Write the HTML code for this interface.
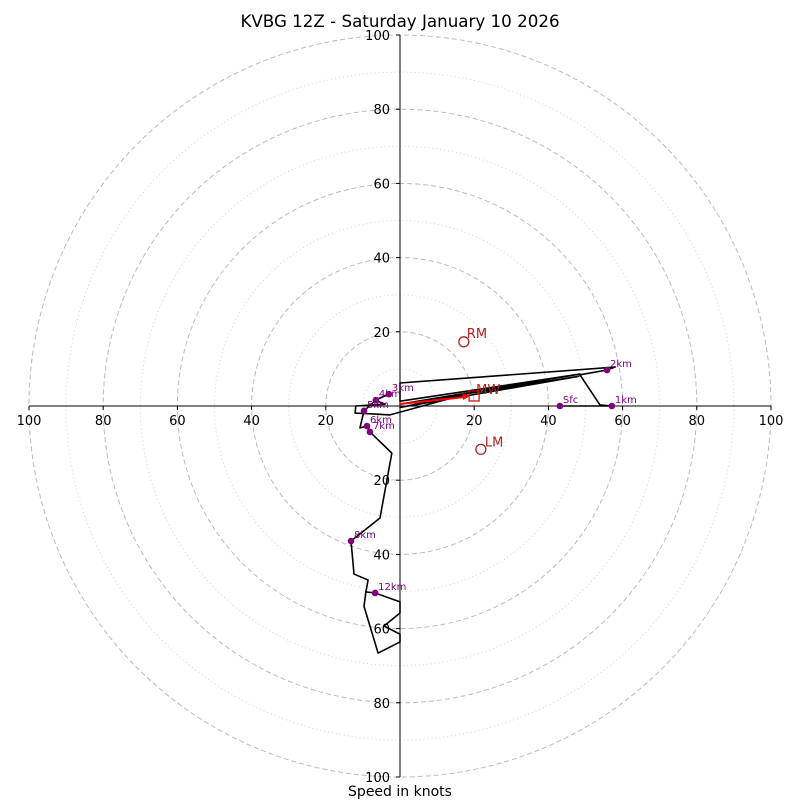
<!DOCTYPE html>
<html><head><meta charset="utf-8"><style>
body{margin:0;background:#fff}
svg text{font-family:"DejaVu Sans","Liberation Sans",sans-serif}
</style></head><body>
<svg id="chart" width="800" height="800" viewBox="0 0 800 800">
<rect width="800" height="800" fill="#fff"/>
<text x="400" y="27" text-anchor="middle" font-size="16.7">KVBG 12Z - Saturday January 10 2026</text>
<text x="400" y="796" text-anchor="middle" font-size="14">Speed in knots</text>
<g id="rings"></g><g id="axes"></g><g id="trace"></g><g id="marks"></g>
</svg>
<script>
const ringMajor=[20,40,60,80,100];
const ringMinor=[10,30,50,70,90];
const tickLabels=["100","80","60","40","20","20","40","60","80","100"];
const tickValues=[-100,-80,-60,-40,-20,20,40,60,80,100];
const hodoU=[43.1,57.1,53.9,48.5,55.8,58,0,0,48.5,0,48.2,0,18.9,-2.7,-12.1,-11.9,-4,-6.7,-3,-6.5,-9.7,-10.8,-8.9,-8.1,-2.2,-5.4,-13.2,-12.4,-8.6,-9.2,-6.7,0,0,-4.3,0,0,-5.9,-9.7,-9.2];
const hodoV=[0,0,0.3,8.4,9.7,10.5,6.2,1.3,8.6,0.5,8.0,-0.4,3.5,-2.4,-1.9,0,0.5,1.6,3.2,1.6,-1.3,-5.9,-5.4,-7,-12.7,-30.2,-36.4,-45.3,-46.9,-50.1,-50.4,-52.8,-55.8,-59.3,-61.5,-63.6,-66.6,-54,-50.1];
const levelNames=["Sfc","1km","2km","3km","4km","5km","6km","7km","8km","12km"];
const levelU=[43.1,57.1,55.8,-3,-6.5,-9.7,-8.9,-8.1,-13.2,-6.7];
const levelV=[0,0,9.7,3.2,1.6,-1.3,-5.4,-7,-36.4,-50.4];
const mwU=[18.9], mwV=[2.7];
const rmU=[17.2], rmV=[17.3];
const lmU=[21.8], lmV=[-11.7];

const cx=400,cy=406,k=3.71;
const sx=u=>cx+u*k, sy=v=>cy-v*k;
const NS="http://www.w3.org/2000/svg";
function mk(tag,parent,attrs){const e=document.createElementNS(NS,tag);for(const a in attrs)e.setAttribute(a,attrs[a]);document.getElementById(parent).appendChild(e);return e;}

ringMinor.forEach(r=>{const c=mk('circle','rings',{cx:cx,cy:cy,r:r*k,fill:'none',stroke:'#d3d3d3','stroke-dasharray':'1,3','stroke-width':1});

});
ringMajor.forEach(r=>{const c=mk('circle','rings',{cx:cx,cy:cy,r:r*k,fill:'none',stroke:'#bbb','stroke-dasharray':'5,3','stroke-width':1});

});

let l=mk('line','axes',{x1:sx(-100),y1:cy,x2:sx(100),y2:cy,stroke:'#000','stroke-width':1});


l=mk('line','axes',{x1:cx,y1:sy(100),x2:cx,y2:sy(-100),stroke:'#000','stroke-width':1});


tickValues.forEach((t,i)=>{
 let tk=mk('line','axes',{x1:sx(t),y1:cy,x2:sx(t),y2:cy+4,stroke:'#000'});
 
 
 let tx=mk('text','axes',{x:sx(t),y:cy+19,'text-anchor':'middle','font-size':13});tx.textContent=tickLabels[i];
 
 
 tk=mk('line','axes',{x1:cx-4,y1:sy(-t),x2:cx,y2:sy(-t),stroke:'#000'});
 
 
 let ty=mk('text','axes',{x:cx-10,y:sy(-t)+5,'text-anchor':'end','font-size':13});ty.textContent=tickLabels[i];
 
 
});

const pts=hodoU.map((u,i)=>sx(u)+','+sy(hodoV[i])).join(' ');
const pl=mk('polyline','trace',{points:pts,fill:'none',stroke:'#000','stroke-width':1.6,'stroke-linejoin':'round'});



levelNames.forEach((n,i)=>{
 const d=mk('circle','marks',{cx:sx(levelU[i]),cy:sy(levelV[i]),r:3.3,fill:'purple'});
 
 
 const t=mk('text','marks',{x:sx(levelU[i])+3,y:sy(levelV[i])-3,'font-size':10,fill:'purple'});t.textContent=n;
 
 
});

const ar=mk('line','marks',{x1:cx,y1:cy-2,x2:sx(mwU[0])-5,y2:sy(mwV[0])+1,stroke:'red','stroke-width':2});


const ah=mk('polygon','marks',{points:`${sx(mwU[0])},${sy(mwV[0])} ${sx(mwU[0])-8},${sy(mwV[0])-3} ${sx(mwU[0])-7},${sy(mwV[0])+4}`,fill:'red'});


const bx=mk('rect','marks',{x:sx(mwU[0])-1,y:sy(mwV[0])-5,width:10,height:10,fill:'none',stroke:'#c00','stroke-width':1.2});


let t=mk('text','marks',{x:sx(mwU[0])+6,y:sy(mwV[0])-2,'font-size':13,fill:'#b22222'});t.textContent='MW';


let c=mk('circle','marks',{cx:sx(rmU[0]),cy:sy(rmV[0]),r:5,fill:'none',stroke:'#b22222','stroke-width':1.3});


t=mk('text','marks',{x:sx(rmU[0])+3,y:sy(rmV[0])-4,'font-size':13,fill:'#b22222'});t.textContent='RM';


c=mk('circle','marks',{cx:sx(lmU[0]),cy:sy(lmV[0]),r:5,fill:'none',stroke:'#b22222','stroke-width':1.3});


t=mk('text','marks',{x:sx(lmU[0])+4,y:sy(lmV[0])-3,'font-size':13,fill:'#b22222'});t.textContent='LM';


</script>
</body></html>
